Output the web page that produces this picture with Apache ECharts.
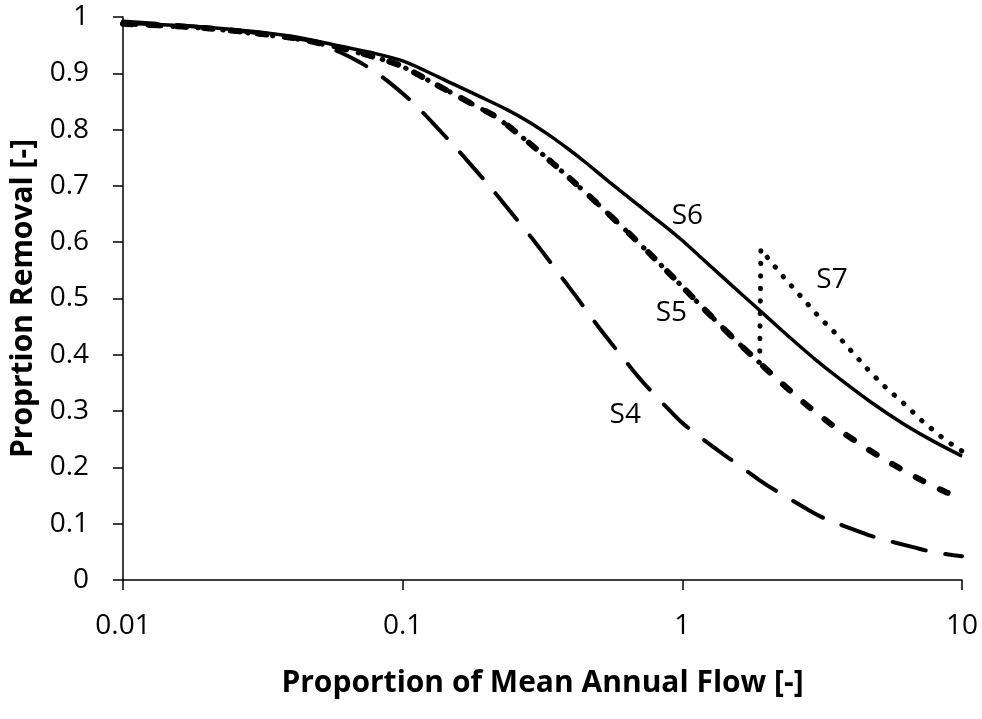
<!DOCTYPE html>
<html>
<head>
<meta charset="utf-8">
<title>Proportion Removal</title>
<script src="https://cdn.jsdelivr.net/npm/echarts@6/dist/echarts.min.js"></script>
<style>
  html, body { margin: 0; padding: 0; background: #fff; }
  #chart { width: 982px; height: 719px; }
</style>
</head>
<body>
<div id="chart"></div>
<script>
// curve data [flow proportion, removal]
var s4 = [[0.01,0.992],[0.02,0.981],[0.04,0.964],[0.05,0.953],[0.06,0.937],[0.07,0.920],[0.08,0.902],
  [0.09,0.883],[0.1,0.864],[0.113,0.840],[0.128,0.812],[0.156,0.766],[0.173,0.741],[0.213,0.689],
  [0.235,0.663],[0.289,0.608],[0.316,0.583],[0.379,0.531],[0.418,0.503],[0.497,0.452],[0.548,0.425],
  [0.662,0.374],[0.743,0.345],[0.914,0.298],[1.016,0.276],[1.3,0.235],[1.47,0.216],[1.88,0.178],
  [2.17,0.158],[2.79,0.126],[3.21,0.110],[4.29,0.086],[4.97,0.075],[6.74,0.058],[7.81,0.050],[10,0.042]];
var s5 = [[0.01,0.988],[0.02,0.980],[0.04,0.963],[0.06,0.945],[0.083,0.926],[0.1,0.912],[0.125,0.886],
  [0.15,0.865],[0.178,0.845],[0.217,0.822],[0.255,0.795],[0.3,0.766],[0.35,0.737],[0.405,0.709],
  [0.477,0.677],[0.55,0.648],[0.647,0.615],[0.76,0.581],[0.88,0.549],[1.0,0.521],[1.15,0.490],
  [1.32,0.460],[1.57,0.423],[1.84,0.391],[2.17,0.358],[2.55,0.327],[2.91,0.303],[3.55,0.270],
  [4.18,0.246],[5.05,0.220],[5.96,0.199],[7.19,0.177],[8.77,0.156],[10,0.145]];
var s6 = [[0.01,0.989],[0.02,0.982],[0.04,0.966],[0.06,0.948],[0.08,0.935],[0.1,0.922],[0.12,0.905],
  [0.15,0.882],[0.19,0.858],[0.235,0.836],[0.28,0.815],[0.33,0.792],[0.39,0.766],[0.45,0.742],
  [0.535,0.711],[0.63,0.683],[0.7,0.665],[0.8,0.642],[0.92,0.618],[1.0,0.603],[1.22,0.564],
  [1.6,0.511],[1.88,0.480],[2.17,0.452],[2.62,0.416],[3.0,0.391],[3.55,0.362],[4.66,0.318],
  [6.1,0.279],[7.8,0.248],[10,0.220]];
var s7 = s5.filter(function (p) { return p[0] < 1.85; }).concat([[1.89,0.386],[1.91,0.588],[2.05,0.568],
  [2.35,0.533],[2.66,0.503],[3.06,0.469],[3.55,0.437],[4.08,0.403],[4.66,0.371],[5.31,0.343],
  [6.21,0.313],[7.26,0.281],[8.69,0.249],[10,0.229]]);

// curve name labels
var labelNames = ['S4', 'S5', 'S6', 'S7'];
var labelPos = [[0.625,0.293],[0.914,0.474],[1.042,0.647],[3.43,0.533]];

var xMin = 0.01, xMax = 10;
var yMin = 0, yMax = 1, yStep = 0.1;

var font = '"Open Sans", "Noto Sans", sans-serif';

function fmt(v) { return String(parseFloat(Number(v).toPrecision(6))); }

var myChart = echarts.init(document.getElementById('chart'));

var option = {
  backgroundColor: '#fff',
  animation: false,
  grid: { left: 123, right: 20, top: 17, bottom: 139, containLabel: false },
  xAxis: {
    type: 'log', logBase: 10, min: xMin, max: xMax,
    name: 'Proportion of Mean Annual Flow [-]',
    nameLocation: 'middle', nameGap: 88,
    nameTextStyle: { fontFamily: font, fontSize: 30, fontWeight: 'bold', color: '#000' },
    axisLine: { show: true, lineStyle: { color: '#000', width: 1.5 } },
    axisTick: { show: true, inside: false, length: 10, lineStyle: { color: '#000', width: 1.5 } },
    minorTick: { show: false },
    splitLine: { show: false },
    axisLabel: { fontFamily: font, fontSize: 28, color: '#000', margin: 32, formatter: fmt }
  },
  yAxis: {
    type: 'value', min: yMin, max: yMax, interval: yStep,
    name: 'Proprtion Removal [-]',
    nameLocation: 'middle', nameGap: 80, nameRotate: 90,
    nameTextStyle: { fontFamily: font, fontSize: 30, fontWeight: 'bold', color: '#000' },
    axisLine: { show: true, lineStyle: { color: '#000', width: 1.5 } },
    axisTick: { show: true, inside: false, length: 10, lineStyle: { color: '#000', width: 1.5 } },
    splitLine: { show: false },
    axisLabel: { fontFamily: font, fontSize: 28, color: '#000', margin: 34, formatter: fmt }
  },
  series: [
    {
      name: 'S7', type: 'line', data: s7, showSymbol: false, symbol: 'none', z: 1,
      lineStyle: { color: '#000', width: 5, type: [0.5, 12], cap: 'round' }
    },
    {
      name: 'S5', type: 'line', data: s5, showSymbol: false, symbol: 'none', smooth: 0.3, z: 2,
      lineStyle: { color: '#000', width: 6, type: [9, 18], cap: 'round' }
    },
    {
      name: 'S4', type: 'line', data: s4, showSymbol: false, symbol: 'none', smooth: 0.3, z: 3,
      lineStyle: { color: '#000', width: 4, type: [34, 20], cap: 'round' }
    },
    {
      name: 'S6', type: 'line', data: s6, showSymbol: false, symbol: 'none', smooth: 0.3, z: 4,
      lineStyle: { color: '#000', width: 3.5, type: 'solid' }
    },
    {
      name: 'labels', type: 'scatter', symbolSize: 1, z: 5,
      itemStyle: { color: '#fff', opacity: 1 },
      data: labelNames.map(function (n, i) { return { name: n, value: labelPos[i] }; }),
      label: {
        show: true, position: 'inside', formatter: '{b}', opacity: 1,
        fontFamily: font, fontSize: 28, color: '#000'
      }
    }
  ]
};

myChart.setOption(option);
</script>
</body>
</html>
